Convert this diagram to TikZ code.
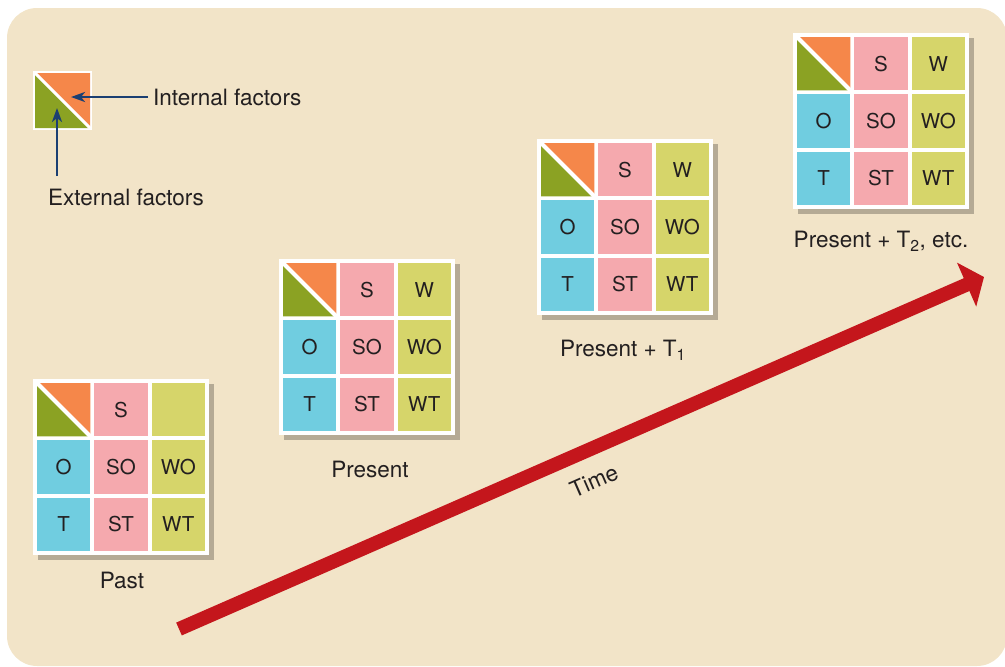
\documentclass[tikz,border=0pt]{standalone}
\usepackage{fontspec}
\setmainfont{TeX Gyre Heros}
\usetikzlibrary{positioning,arrows.meta,shadows}
\definecolor{bgbeige}{HTML}{F2E4C8}
\definecolor{sorange}{HTML}{F5874A}
\definecolor{sgreen}{HTML}{8BA223}
\definecolor{spink}{HTML}{F5A9AE}
\definecolor{syellow}{HTML}{D6D56A}
\definecolor{scyan}{HTML}{70CDE0}
\definecolor{tred}{HTML}{C4161C}
\definecolor{lblue}{HTML}{1B3F72}
\definecolor{txt}{HTML}{231F20}
\tikzset{
  backing/.style={fill=white,minimum size=176pt,inner sep=0pt,anchor=north west,
    drop shadow={shadow xshift=5pt,shadow yshift=-5pt,opacity=0.25,fill=black}},
  legbox/.style={fill=white,minimum size=59pt,inner sep=0pt,anchor=north west},
  cell/.style={minimum size=53.3pt,inner sep=0pt,text=txt,font=\fontsize{20.5}{24}\selectfont},
  lbl/.style={text=txt,font=\fontsize{22.5}{26}\selectfont,inner sep=1pt},
  diag/.style={white,line width=4pt,shorten <=-3pt,shorten >=-3pt},
  legarr/.style={-{Stealth[length=14pt,width=10pt,inset=4pt]},line width=2.5pt,lblue},
  timearr/.style={-{Triangle[length=19pt,width=47pt]},line width=14pt,tred},
}
% one SWOT grid: name, left, top, text of the W cell
\newcommand{\swotgrid}[4]{%
  \begin{scope}[shift={(#2,#3)}]
    \node[backing] (#1) at (0,0) {};
    % split corner cell
    \fill[sgreen] (4,4) -- (4,57.3) -- (57.3,57.3) -- cycle;
    \fill[sorange] (4,4) -- (57.3,4) -- (57.3,57.3) -- cycle;
    \draw[diag] (4,4) -- (57.3,57.3);
    \foreach \rr/\cc/\col/\txt in {0/1/spink/S,0/2/syellow/#4,1/0/scyan/O,1/1/spink/SO,
        1/2/syellow/WO,2/0/scyan/T,2/1/spink/ST,2/2/syellow/WT}
      \node[cell,fill=\col] (#1-\rr\cc) at (30.67+57.33*\cc,30.67+57.33*\rr) {\txt};
  \end{scope}}

\begin{document}
\begin{tikzpicture}[x=1pt,y=-1pt]
  \useasboundingbox (0,0) rectangle (1005,667);
  \fill[bgbeige,rounded corners=30pt] (7,8) rectangle (1007,666);

  % legend square
  \node[legbox] (legend) at (33,71) {};
  \fill[sgreen] (35,73) -- (35,128) -- (90,128) -- cycle;
  \fill[sorange] (35,73) -- (90,73) -- (90,128) -- cycle;
  \draw[diag,line width=3pt,shorten <=-1pt,shorten >=-1pt] (35,73) -- (90,128);
  \node[lbl,anchor=west,inner sep=5pt] (intl) at (148,97) {Internal factors};
  \node[lbl] (extl) at (126,197) {External factors};
  \coordinate (intltip) at (71,97);
  \coordinate (extstart) at (57,176);
  \coordinate (exttip) at (57,108);
  \draw[legarr] (intl.west) -- (intltip);
  \draw[legarr] (extstart) -- (exttip);

  % time arrow
  \coordinate (tstart) at (179,629);
  \coordinate (tend) at (984,277);
  \draw[timearr] (tstart) -- (tend);
  \node[lbl,rotate=23.6] (timel) at (594,481) {Time};

  % the four grids
  \swotgrid{past}{33}{379}{\relax}
  \swotgrid{pres}{279}{259}{W}
  \swotgrid{presa}{537}{139}{W}
  \swotgrid{presb}{793}{33}{W}

  \node[lbl] (pastl) at (122,580) {Past};
  \node[lbl] (presl) at (370,469) {Present};
  \node[lbl] (presal) at (623,350) {Present + T\textsubscript{1}};
  \node[lbl] (presbl) at (881,241) {Present + T\textsubscript{2}, etc.};
\end{tikzpicture}
\end{document}
